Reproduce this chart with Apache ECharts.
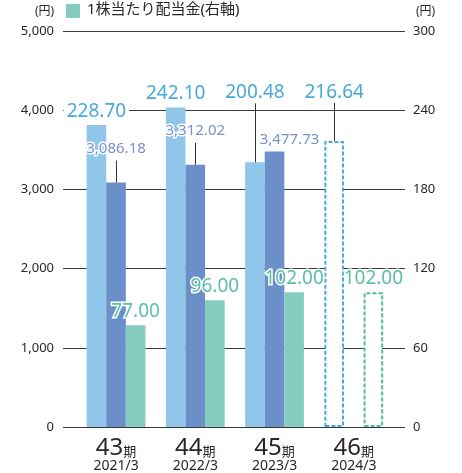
<!DOCTYPE html>
<html>
<head>
<meta charset="utf-8">
<script src="https://cdn.jsdelivr.net/npm/echarts@6/dist/echarts.min.js"></script>
<style>
  html, body { margin: 0; padding: 0; background: #fff; }
  #chart { width: 462px; height: 473px; }
</style>
</head>
<body>
<div id="chart"></div>
<script>
// Fiscal periods and per-share figures (yen)
const periods = ['43', '44', '45', '46'];
const fiscalEnds = ['2021/3', '2022/3', '2023/3', '2024/3'];
const epsValues = [228.70, 242.10, 200.48, 216.64];   // right axis
const bpsValues = [3086.18, 3312.02, 3477.73, null];  // left axis
const dpsValues = [77.00, 96.00, 102.00, 102.00];     // right axis
const forecastIndex = 3;

const leftMax = 5000, leftStep = 1000;
const rightMax = 300, rightStep = 60;

// Layout / styling
const FONT = "'Noto Sans', 'Noto Sans CJK JP', sans-serif";
const TEXT = '#2b2625';
const BAR_W = 19.6;
const TOP = 31, BOTTOM = 46;
const COLORS = { eps: '#8fc6ea', bps: '#6b90c9', dps: '#85ccbf' };
const DASH = { eps: '#4aa9dc', dps: '#52b9a2' };
const epsLift = [0, 0, 56, 35];       // extra raise of the value label above the bar (px)
const bpsLift = [22, 22, 0, 0];
const bpsShiftX = [0, 0, 15, 0];

const dpsName = '1株当たり配当金(右軸)';

function fmt2(v) {
  return v.toLocaleString('en-US', { minimumFractionDigits: 2, maximumFractionDigits: 2 });
}

function labelStyle(color, size, boxed) {
  const s = {
    show: true, position: 'top', distance: 4,
    color: color, fontSize: size, fontFamily: FONT,
    textBorderColor: '#fff', textBorderWidth: 3,
    formatter: p => fmt2(p.value)
  };
  if (boxed) { s.backgroundColor = '#fff'; s.padding = [0, 3]; }
  return s;
}

function barData(values, dashColor, lift, shiftX) {
  return values.map((v, i) => {
    if (v == null) return null;
    const item = { value: v };
    const dx = shiftX ? shiftX[i] : 0;
    const dy = lift ? lift[i] : 0;
    if (dx || dy) item.label = { offset: [dx, -dy] };
    if (i === forecastIndex && dashColor) {
      item.itemStyle = { color: '#fff', borderColor: dashColor, borderWidth: 2, borderType: [4, 2] };
    }
    return item;
  });
}

function leaderSeries(values, lift, extra, slot, yAxisIndex) {
  const data = [];
  values.forEach((v, i) => { if (v != null && lift[i] > 0) data.push([i, v, lift[i] + extra]); });
  return {
    type: 'custom', xAxisIndex: 1, yAxisIndex: yAxisIndex, z: 3, silent: true,
    data: data,
    renderItem: (params, api) => {
      const p = api.coord([api.value(0), api.value(1)]);
      const x = Math.round(p[0] + slot * BAR_W) + 0.5;
      return {
        type: 'line',
        shape: { x1: x, y1: p[1], x2: x, y2: p[1] - api.value(2) },
        style: { stroke: '#333', lineWidth: 1 }
      };
    }
  };
}

const chart = echarts.init(document.getElementById('chart'), null, { renderer: 'canvas' });

chart.setOption({
  animation: false,
  textStyle: { fontFamily: FONT },
  graphic: [
    { type: 'text', left: 35, top: 6, style: { text: '(円)', fontSize: 12, fill: TEXT, fontFamily: FONT } },
    { type: 'text', left: 416, top: 6, style: { text: '(円)', fontSize: 12, fill: TEXT, fontFamily: FONT } },
    // legend for the dividend series
    { type: 'rect', left: 66, top: 4, shape: { width: 14, height: 14 }, style: { fill: COLORS.dps } },
    { type: 'text', left: 87, top: 2, style: { text: dpsName, fontSize: 15, fill: TEXT, fontFamily: FONT } }
  ],
  grid: [
    { left: 63, right: 57, top: TOP, bottom: BOTTOM },
    { left: 76.4, right: 68.6, top: TOP, bottom: BOTTOM }
  ],
  xAxis: [
    { type: 'category', gridIndex: 0, data: periods, show: false },
    {
      type: 'category', gridIndex: 1, data: periods,
      axisLine: { show: false }, axisTick: { show: false },
      axisLabel: {
        margin: 11, interval: 0,
        formatter: (v, i) => `{num|${v}}{ki|期}\n{date|${fiscalEnds[i]}}`,
        rich: {
          num: { fontSize: 24, lineHeight: 21, color: TEXT, fontFamily: FONT },
          ki: { fontSize: 13, lineHeight: 21, color: TEXT, fontFamily: FONT, verticalAlign: 'bottom' },
          date: { fontSize: 14, lineHeight: 14, color: TEXT, fontFamily: FONT }
        }
      }
    }
  ],
  yAxis: [
    {
      type: 'value', gridIndex: 0, position: 'left', min: 0, max: leftMax, interval: leftStep,
      axisLine: { show: false }, axisTick: { show: false },
      axisLabel: { margin: 9, fontSize: 13, color: TEXT, fontFamily: FONT, formatter: v => v.toLocaleString('en-US') },
      splitLine: { show: true, lineStyle: { color: '#3a3a3a', width: 1 } }
    },
    {
      type: 'value', gridIndex: 0, position: 'right', min: 0, max: rightMax, interval: rightStep,
      axisLine: { show: false }, axisTick: { show: false },
      axisLabel: { margin: 8, fontSize: 13, color: TEXT, fontFamily: FONT },
      splitLine: { show: false }
    },
    { type: 'value', gridIndex: 1, min: 0, max: leftMax, show: false },
    { type: 'value', gridIndex: 1, min: 0, max: rightMax, show: false }
  ],
  series: [
    {
      name: '1株当たり当期純利益', type: 'bar', xAxisIndex: 1, yAxisIndex: 3,
      barWidth: BAR_W, barGap: '0%',
      itemStyle: { color: COLORS.eps },
      label: labelStyle('#4aa9d9', 19, true),
      data: barData(epsValues, DASH.eps, epsLift, null)
    },
    {
      name: '1株当たり純資産', type: 'bar', xAxisIndex: 1, yAxisIndex: 2,
      barWidth: BAR_W, barGap: '0%',
      itemStyle: { color: COLORS.bps },
      label: labelStyle('#7890cc', 15, false),
      data: barData(bpsValues, null, bpsLift, bpsShiftX)
    },
    {
      name: dpsName, type: 'bar', xAxisIndex: 1, yAxisIndex: 3,
      barWidth: BAR_W, barGap: '0%',
      itemStyle: { color: COLORS.dps },
      label: labelStyle('#5dbea9', 19, false),
      data: barData(dpsValues, DASH.dps, null, null)
    },
    leaderSeries(epsValues, epsLift, 3, -1, 3),
    leaderSeries(bpsValues, bpsLift, 0, 0, 2)
  ]
});
</script>
</body>
</html>
